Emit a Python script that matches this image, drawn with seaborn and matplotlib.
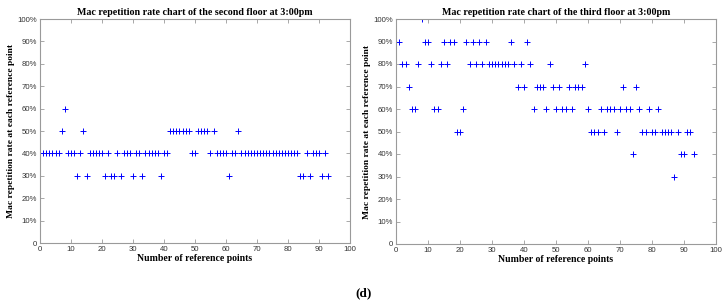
import numpy as np
import pandas as pd
import seaborn as sns
import matplotlib.pyplot as plt
from matplotlib.ticker import FuncFormatter

sns.set_theme(style="white")
plt.rcParams['font.family'] = ['Liberation Sans', 'DejaVu Sans']

# Mac repetition rate (%) per reference point, 3:00pm
second_floor = [40, 40, 40, 40, 40, 40, 50, 60, 40, 40,
                40, 30, 40, 50, 30, 40, 40, 40, 40, 40,
                30, 40, 30, 30, 40, 30, 40, 40, 40, 30,
                40, 40, 30, 40, 40, 40, 40, 40, 30, 40,
                40, 50, 50, 50, 50, 50, 50, 50, 40, 40,
                50, 50, 50, 50, 40, 50, 40, 40, 40, 40,
                30, 40, 40, 50, 40, 40, 40, 40, 40, 40,
                40, 40, 40, 40, 40, 40, 40, 40, 40, 40,
                40, 40, 40, 30, 30, 40, 30, 40, 40, 40,
                30, 40, 30]
third_floor = [90, 80, 80, 70, 60, 60, 80, 100, 90, 90,
               80, 60, 60, 80, 90, 80, 90, 90, 50, 50,
               60, 90, 80, 90, 80, 90, 80, 90, 80, 80,
               80, 80, 80, 80, 80, 90, 80, 70, 80, 70,
               90, 80, 60, 70, 70, 70, 60, 80, 70, 60,
               70, 60, 60, 70, 60, 70, 70, 70, 80, 60,
               50, 50, 50, 60, 50, 60, 60, 60, 50, 60,
               70, 60, 60, 40, 70, 60, 50, 50, 60, 50,
               50, 60, 50, 50, 50, 50, 30, 50, 40, 40,
               50, 50, 40]
titles = ["Mac repetition rate chart of the second floor at 3:00pm",
          "Mac repetition rate chart of the third floor at 3:00pm"]
x_label = "Number of reference points"
y_label = "Mac repetition rate at each reference point"

W, H = 728, 302
fig = plt.figure(figsize=(W / 100, H / 100), dpi=100)
fig.patch.set_facecolor('white')

boxes = [(40, 19, 310, 224), (396, 19, 320, 225)]
serif = ['Liberation Serif', 'DejaVu Serif']
edge = '#9a9a9a'

for (x0, y0, w, h), vals, title in zip(boxes, [second_floor, third_floor], titles):
    ax = fig.add_axes([x0 / W, 1 - (y0 + h) / H, w / W, h / H])
    df = pd.DataFrame({'point': np.arange(1, len(vals) + 1), 'rate': vals})
    sns.scatterplot(data=df, x='point', y='rate', ax=ax, marker='+',
                    color='#0000ff', s=13, linewidth=0.7, legend=False)
    ax.set_xlim(0, 100)
    ax.set_ylim(0, 100)
    ax.set_xticks(range(0, 101, 10))
    ax.set_yticks(range(0, 101, 10))
    ax.yaxis.set_major_formatter(FuncFormatter(
        lambda v, p: '0' if v == 0 else f'{int(v)}%'))
    ax.tick_params(direction='in', length=3, width=0.6, color=edge,
                   labelsize=5.6, labelcolor='#333333', pad=2,
                   top=True, right=True, bottom=True, left=True)
    for s in ax.spines.values():
        s.set_color(edge)
        s.set_linewidth(0.8)
    ax.set_title(title, family=serif, fontweight='bold', fontsize=7.2,
                 pad=3, color='black')
    ax.set_xlabel(x_label, family=serif, fontweight='bold', fontsize=7,
                  labelpad=1, color='black')
    ax.set_ylabel(y_label, family=serif, fontweight='bold', fontsize=6.8,
                  labelpad=2, color='black')

fig.text(364 / W, 1 - 293 / H, "(d)", family=serif, fontweight='bold',
         fontsize=9.5, ha='center', va='center', color='black')

fig.savefig('out.png', dpi=100, facecolor='white')
